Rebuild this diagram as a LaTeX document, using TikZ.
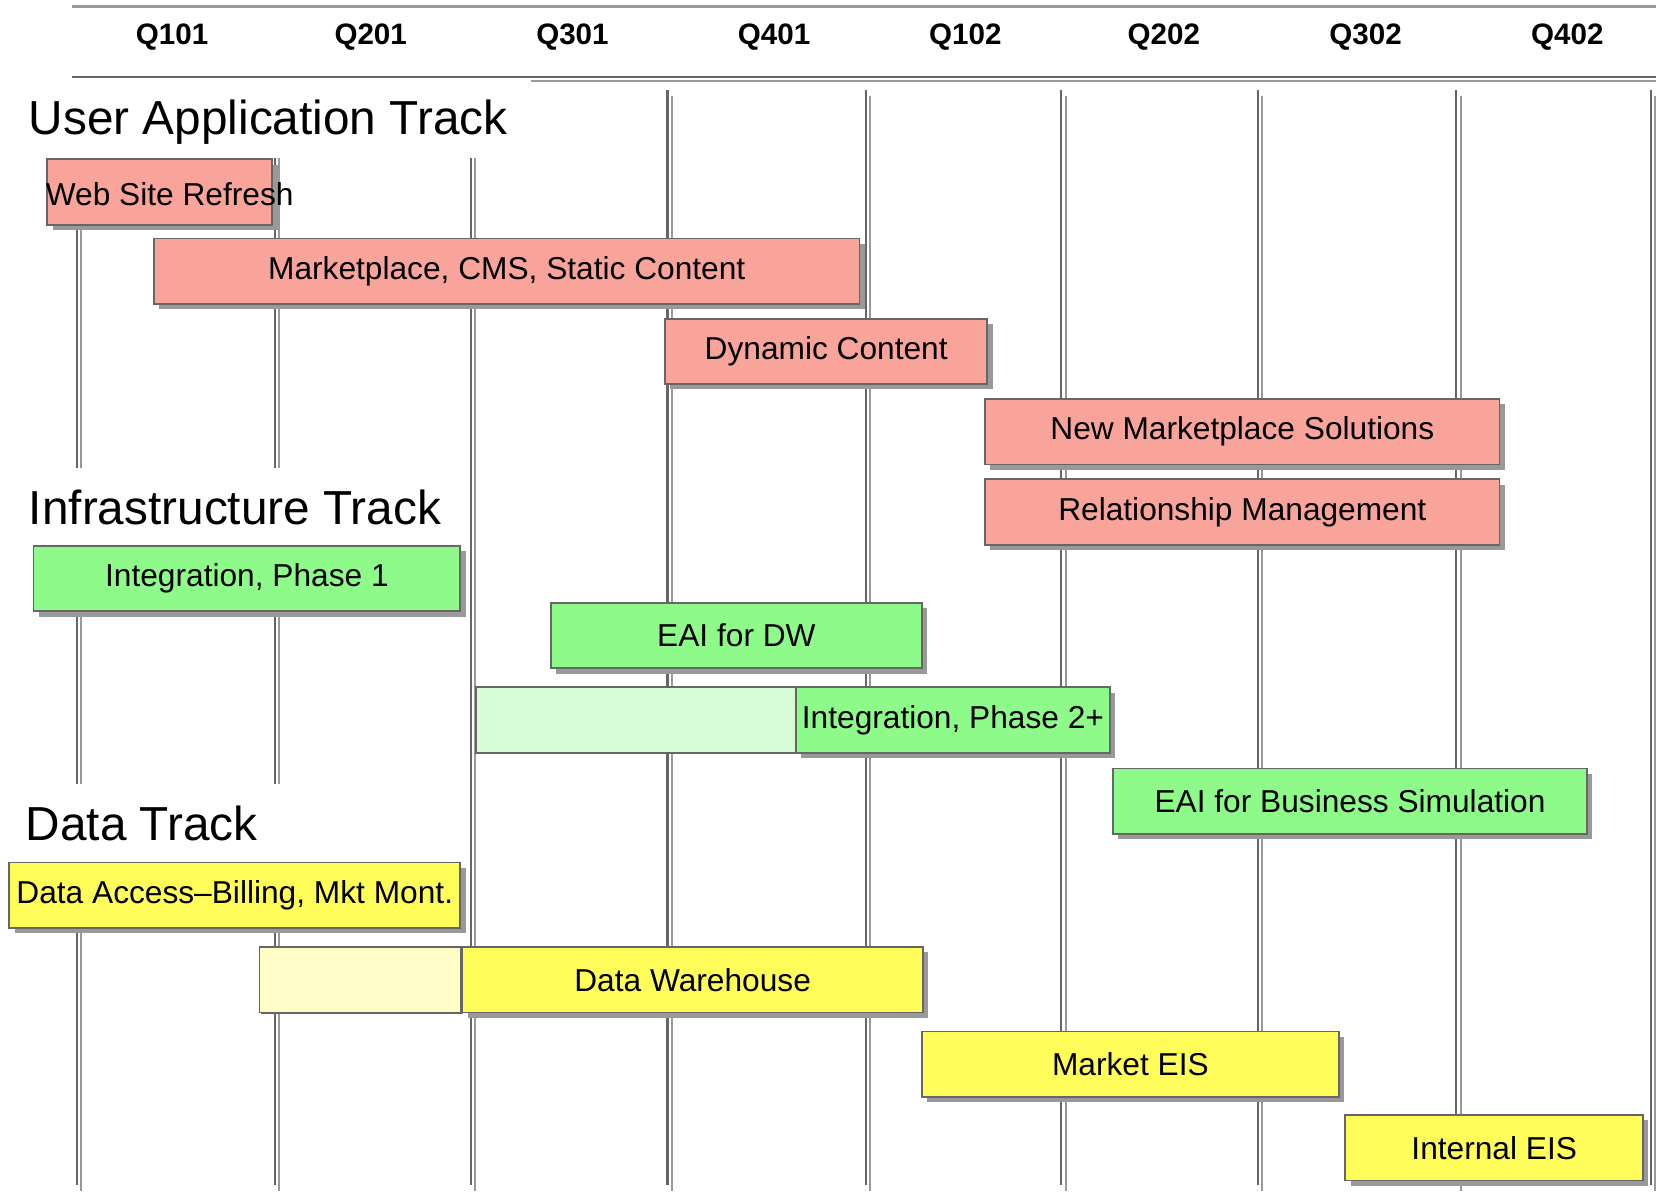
\documentclass[tikz,border=0pt]{standalone}
\usepackage{fontspec}
\setmainfont{Liberation Sans}
\usetikzlibrary{shadows}

\definecolor{bordergray}{HTML}{666666}
\definecolor{shadowgray}{HTML}{999999}
\definecolor{userpink}{RGB}{249,164,155}
\definecolor{infragreen}{RGB}{142,250,138}
\definecolor{infralight}{RGB}{216,252,216}
\definecolor{datayellow}{RGB}{255,253,90}
\definecolor{datalight}{RGB}{255,253,200}

\tikzset{
  boxbase/.style={draw=bordergray, line width=0.8pt, minimum height=31pt,
    inner sep=0pt, anchor=north west, font=\fontsize{15}{18}\selectfont},
  taskbox/.style={boxbase, drop shadow={shadow xshift=2.5pt, shadow yshift=-2.5pt,
    fill=shadowgray, opacity=1}},
  planbox/.style={boxbase, drop shadow={shadow xshift=0.8pt, shadow yshift=-0.8pt,
    fill=bordergray, opacity=1}},
  barlabel/.style={anchor=west, inner sep=0pt, font=\fontsize{15}{18}\selectfont},
  tracktitle/.style={anchor=west, inner sep=0pt, font=\fontsize{22.6}{26}\selectfont},
  quarter/.style={font=\bfseries\fontsize{14}{16}\selectfont},
}

\begin{document}
\begin{tikzpicture}[x=0.5pt,y=-0.5pt]
  \useasboundingbox (0,0) rectangle (1568,1128);

  % header rules and quarter labels
  \draw[shadowgray, line width=1.5pt] (68,6) -- (1568,6);
  \draw[bordergray, line width=1pt] (68,73) -- (1568,73);
  \draw[shadowgray, line width=1pt] (503,77) -- (1568,77);
  \foreach \q/\x in {Q101/163, Q201/351, Q301/542, Q401/733,
                     Q102/914, Q202/1102, Q302/1293, Q402/1484}{
    \node[quarter] (\q) at (\x,35) {\q};
  }

  % quarter grid lines, each with a lighter shadow
  \foreach \x in {73,260,446,632,820,1005,1191,1379,1563}{
    \draw[shadowgray, line width=1pt] ({\x+4},91) -- ({\x+4},1128);
    \draw[bordergray, line width=1pt] (\x,85) -- (\x,1122);
  }

  % track titles sit on white patches
  \fill[white] (0,76) rectangle (503,150);
  \fill[white] (0,443) rectangle (440,517);
  \fill[white] (0,742) rectangle (265,818);
  \node[tracktitle] (usertrack) at (27,116) {User Application Track};
  \node[tracktitle] (infratrack) at (27,480) {Infrastructure Track};
  \node[tracktitle] (datatrack) at (24,780) {Data Track};

  % task bars: style, name, x from, x to, top, fill, text
  \newcommand{\taskbar}[7]{%
    \node[#1, fill=#6, minimum width={(#4-#3)*0.5pt}] (#2) at (#3,#5) {#7};
  }
  \taskbar{taskbox}{website}{44}{257}{150}{userpink}{}
  \node[barlabel] (websitetext) at (43,184) {Web Site Refresh};
  \taskbar{taskbox}{marketplace}{145}{813}{225}{userpink}{Marketplace, CMS, Static Content}
  \taskbar{taskbox}{dynamic}{629}{934}{301}{userpink}{Dynamic Content}
  \taskbar{taskbox}{newmarket}{932}{1419}{377}{userpink}{New Marketplace Solutions}
  \taskbar{taskbox}{relation}{932}{1419}{453}{userpink}{Relationship Management}

  \taskbar{taskbox}{integrone}{31}{435}{516}{infragreen}{Integration, Phase 1}
  \taskbar{taskbox}{eaidw}{521}{872}{570}{infragreen}{EAI for DW}
  \taskbar{planbox}{integrtwoplan}{450}{753}{650}{infralight}{}
  \taskbar{taskbox}{integrtwo}{753}{1050}{650}{infragreen}{Integration, Phase 2+}
  \taskbar{taskbox}{eaisim}{1053}{1502}{727}{infragreen}{EAI for Business Simulation}

  \taskbar{taskbox}{dataaccess}{8}{435}{816}{datayellow}{Data Access–Billing, Mkt Mont.}
  \taskbar{planbox}{dwplan}{245}{436}{896}{datalight}{}
  \taskbar{taskbox}{dw}{437}{873}{896}{datayellow}{Data Warehouse}
  \taskbar{taskbox}{marketeis}{872}{1267}{976}{datayellow}{Market EIS}
  \taskbar{taskbox}{internaleis}{1273}{1555}{1055}{datayellow}{Internal EIS}
\end{tikzpicture}
\end{document}
